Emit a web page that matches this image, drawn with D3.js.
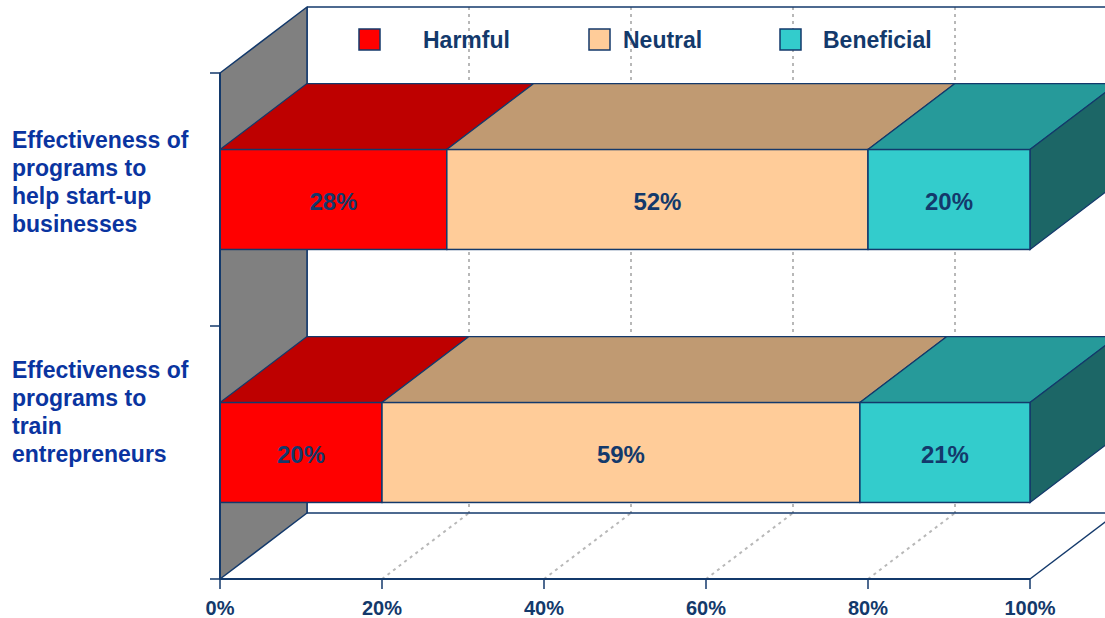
<!DOCTYPE html>
<html>
<head>
<meta charset="utf-8">
<script src="https://cdn.jsdelivr.net/npm/d3@7"></script>
<style>
  body { margin: 0; background: #fff; }
  svg { display: block; font-family: "Liberation Sans", Arial, sans-serif; font-weight: bold; }
</style>
</head>
<body>
<svg id="chart" width="1105" height="618"></svg>
<script>
// dados do grafico
var categorias = ['Effectiveness of programs to help start-up businesses',
    'Effectiveness of programs to train entrepreneurs'];
var linhasRotulo = [
    ['Effectiveness of', 'programs to', 'help start-up', 'businesses'],
    ['Effectiveness of', 'programs to', 'train', 'entrepreneurs']];
var series = ['Harmful', 'Neutral', 'Beneficial'];
var harmful = [28, 20];
var neutral = [52, 59];
var beneficial = [20, 21];
var ticks = [0, 20, 40, 60, 80, 100];
var tickLabels = ['0%', '20%', '40%', '60%', '80%', '100%'];

var corFrente = ['#FF0000', '#FFCC99', '#33CCCC'];
var corTopo = ['#BE0000', '#C09A72', '#269A9A'];
var corLado = '#1C6666';
var azul = '#13396b';
var azulRotulo = '#0a34a0';

var dx = 87, dy = -66;   // profundidade 3D
var svg = d3.select('#chart');

var x = d3.scaleLinear().domain([0, 100]).range([220, 1030]);
var y = d3.scaleBand().domain(categorias).range([73, 579])
    .paddingInner(0.605).paddingOuter(0.3025);

var y0 = y.range()[0], y1 = y.range()[1];
var x0 = x(0), x1 = x(100);

function pts(arr) {
    return arr.map(function (p) { return p.join(','); }).join(' ');
}

// parede do fundo
svg.append('rect')
    .attr('x', x0 + dx).attr('y', y0 + dy)
    .attr('width', 1200).attr('height', y1 - y0)
    .attr('fill', '#fff');

// grade da parede do fundo
svg.selectAll('.gradeFundo')
    .data(ticks.slice(1))
    .enter()
    .append('line')
    .attr('x1', function (d) { return x(d) + dx; })
    .attr('x2', function (d) { return x(d) + dx; })
    .attr('y1', y0 + dy)
    .attr('y2', y1 + dy)
    .attr('stroke', '#b8b8b8')
    .attr('stroke-width', 2)
    .attr('stroke-dasharray', '3,4');

// grade do piso
svg.selectAll('.gradePiso')
    .data(ticks.slice(1, 5))
    .enter()
    .append('line')
    .attr('x1', function (d) { return x(d); })
    .attr('y1', y1)
    .attr('x2', function (d) { return x(d) + dx; })
    .attr('y2', y1 + dy)
    .attr('stroke', '#b8b8b8')
    .attr('stroke-width', 2)
    .attr('stroke-dasharray', '3,4');

// bordas do fundo e piso
svg.append('line').attr('x1', x0 + dx).attr('x2', 1105)
    .attr('y1', y0 + dy).attr('y2', y0 + dy).attr('stroke', azul).attr('stroke-width', 1.5);
svg.append('line').attr('x1', x0 + dx).attr('x2', 1105)
    .attr('y1', y1 + dy).attr('y2', y1 + dy).attr('stroke', azul).attr('stroke-width', 1.5);
svg.append('line').attr('x1', x0 + dx).attr('x2', x0 + dx)
    .attr('y1', y0 + dy).attr('y2', y1 + dy).attr('stroke', azul).attr('stroke-width', 1.5);
svg.append('line').attr('x1', x0).attr('x2', x1)
    .attr('y1', y1).attr('y2', y1).attr('stroke', azul).attr('stroke-width', 2);
svg.append('line').attr('x1', x1).attr('x2', x1 + dx)
    .attr('y1', y1).attr('y2', y1 + dy).attr('stroke', azul).attr('stroke-width', 1.5);

// parede lateral cinza
svg.append('polygon')
    .attr('points', pts([[x0, y0], [x0 + dx, y0 + dy], [x0 + dx, y1 + dy], [x0, y1]]))
    .attr('fill', '#808080')
    .attr('stroke', azul)
    .attr('stroke-width', 1.5)
    .attr('stroke-linejoin', 'round');

// monta os segmentos empilhados
var valores = [harmful, neutral, beneficial];
var linhas = categorias.map(function (c, i) {
    var acc = 0;
    return series.map(function (s, k) {
        var v = valores[k][i];
        var seg = { cat: c, serie: k, inicio: acc, fim: acc + v, valor: v };
        acc += v;
        return seg;
    });
});

var barras = svg.selectAll('.barra')
    .data(linhas)
    .enter()
    .append('g')
    .attr('class', 'barra');

// topo
barras.selectAll('.topo')
    .data(function (d) { return d; })
    .enter()
    .append('polygon')
    .attr('points', function (d) {
        var xa = x(d.inicio), xb = x(d.fim), yt = y(d.cat);
        return pts([[xa, yt], [xa + dx, yt + dy], [xb + dx, yt + dy], [xb, yt]]);
    })
    .attr('fill', function (d) { return corTopo[d.serie]; })
    .attr('stroke', azul)
    .attr('stroke-width', 1.2)
    .attr('stroke-linejoin', 'round');

// lado direito
barras.append('polygon')
    .attr('points', function (d) {
        var ult = d[d.length - 1];
        var xb = x(ult.fim), yt = y(ult.cat), yb = yt + y.bandwidth();
        return pts([[xb, yt], [xb + dx, yt + dy], [xb + dx, yb + dy], [xb, yb]]);
    })
    .attr('fill', corLado)
    .attr('stroke', azul)
    .attr('stroke-width', 1.2);

// frente
barras.selectAll('.frente')
    .data(function (d) { return d; })
    .enter()
    .append('rect')
    .attr('x', function (d) { return x(d.inicio); })
    .attr('y', function (d) { return y(d.cat); })
    .attr('width', function (d) { return x(d.fim) - x(d.inicio); })
    .attr('height', y.bandwidth())
    .attr('fill', function (d) { return corFrente[d.serie]; })
    .attr('stroke', azul)
    .attr('stroke-width', 1.5);

// rotulos dos valores
barras.selectAll('.valor')
    .data(function (d) { return d; })
    .enter()
    .append('text')
    .attr('x', function (d) { return (x(d.inicio) + x(d.fim)) / 2; })
    .attr('y', function (d) { return y(d.cat) + y.bandwidth() / 2 + 10; })
    .attr('text-anchor', 'middle')
    .attr('font-size', 24)
    .attr('fill', azul)
    .text(function (d) { return d.valor + '%'; });

// eixo y (marcas)
var marcasY = [y0, (y(categorias[0]) + y.bandwidth() + y(categorias[1])) / 2, y1];
svg.selectAll('.marcaY')
    .data(marcasY)
    .enter()
    .append('line')
    .attr('x1', x0 - 10).attr('x2', x0)
    .attr('y1', function (d) { return d; })
    .attr('y2', function (d) { return d; })
    .attr('stroke', azul)
    .attr('stroke-width', 1.5);
svg.append('line').attr('x1', x0).attr('x2', x0)
    .attr('y1', y0).attr('y2', y1).attr('stroke', azul).attr('stroke-width', 2);

// eixo x
svg.selectAll('.marcaX')
    .data(ticks)
    .enter()
    .append('line')
    .attr('x1', function (d) { return x(d); })
    .attr('x2', function (d) { return x(d); })
    .attr('y1', y1).attr('y2', y1 + 10)
    .attr('stroke', azul)
    .attr('stroke-width', 1.5);

svg.selectAll('.rotuloX')
    .data(ticks)
    .enter()
    .append('text')
    .attr('x', function (d) { return x(d); })
    .attr('y', y1 + 36)
    .attr('text-anchor', 'middle')
    .attr('font-size', 20)
    .attr('fill', azul)
    .text(function (d, i) { return tickLabels[i]; });

// rotulos das categorias
var deslocRotulo = [-52, -75];
svg.selectAll('.rotuloCat')
    .data(categorias)
    .enter()
    .append('text')
    .attr('font-size', 23)
    .attr('fill', azulRotulo)
    .each(function (c, i) {
        var t = d3.select(this);
        var base = y(c) + y.bandwidth() / 2 + deslocRotulo[i];
        linhasRotulo[i].forEach(function (l, j) {
            t.append('tspan').attr('x', 12).attr('y', base + j * 28).text(l);
        });
    });

// legenda
var legX = [359, 589, 780];
var legenda = svg.selectAll('.legenda')
    .data(series)
    .enter()
    .append('g');
legenda.append('rect')
    .attr('x', function (d, i) { return legX[i]; })
    .attr('y', 29)
    .attr('width', 21).attr('height', 21)
    .attr('fill', function (d, i) { return corFrente[i]; })
    .attr('stroke', azul)
    .attr('stroke-width', 1.5);
legenda.append('text')
    .attr('x', function (d, i) { return 423 + i * 200; })
    .attr('y', 48)
    .attr('font-size', 23)
    .attr('fill', azul)
    .text(function (d) { return d; });
</script>
</body>
</html>
